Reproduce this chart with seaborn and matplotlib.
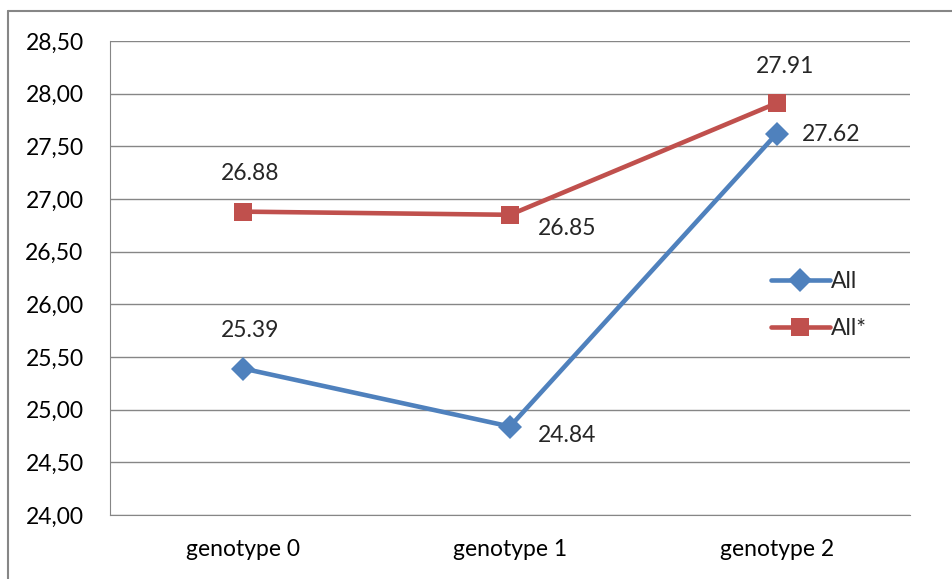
import pandas as pd
import matplotlib.pyplot as plt
import seaborn as sns
from matplotlib.ticker import FuncFormatter, MultipleLocator
from matplotlib.lines import Line2D

# data
genotypes = ["genotype 0", "genotype 1", "genotype 2"]
all_vals = [25.39, 24.84, 27.62]
all_star_vals = [26.88, 26.85, 27.91]

df = pd.DataFrame({
    "genotype": genotypes * 2,
    "value": all_vals + all_star_vals,
    "series": ["All"] * 3 + ["All*"] * 3,
})

sns.set_style("white")
plt.rcParams["font.family"] = ["Lato", "DejaVu Sans"]

blue = "#4F81BD"
red = "#C0504D"
grid = "#868686"
fs = 16.5

fig = plt.figure(figsize=(9.53, 5.79), dpi=100)
ax = fig.add_axes([110 / 953, 1 - 515 / 579, 800 / 953, 474 / 579])

sns.lineplot(data=df, x="genotype", y="value", hue="series", style="series",
             palette={"All": blue, "All*": red},
             markers={"All": "D", "All*": "s"}, dashes=False,
             linewidth=3.3, markersize=12, markeredgewidth=0, ax=ax, sort=False)

# square markers a bit bigger than the diamonds
for ln in ax.lines:
    if ln.get_marker() == "s":
        ln.set_markersize(13.5)

ax.set_xlim(-0.5, 2.5)
ax.set_ylim(24, 28.5)
ax.yaxis.set_major_locator(MultipleLocator(0.5))
ax.yaxis.set_major_formatter(FuncFormatter(lambda v, p: f"{v:.2f}".replace(".", ",")))
ax.grid(axis="y", color=grid, linewidth=1)
ax.set_axisbelow(True)
for s in ["top", "right"]:
    ax.spines[s].set_visible(False)
ax.spines["left"].set_color(grid)
ax.spines["bottom"].set_color(grid)
ax.tick_params(axis="y", length=0, pad=19, labelsize=fs, colors="black")
ax.tick_params(axis="x", length=0, pad=17, labelsize=fs, colors="black")
ax.set_xlabel("")
ax.set_ylabel("")

# data labels
offsets_all = [(7, 38), (57, -9), (54, -1)]
offsets_star = [(7, 38), (57, -14), (8, 37)]
for i, (v, off) in enumerate(zip(all_vals, offsets_all)):
    ax.annotate(f"{v:.2f}", (i, v), xytext=off, textcoords="offset pixels",
                ha="center", va="center", fontsize=fs)
for i, (v, off) in enumerate(zip(all_star_vals, offsets_star)):
    ax.annotate(f"{v:.2f}", (i, v), xytext=off, textcoords="offset pixels",
                ha="center", va="center", fontsize=fs)

handles, labels = ax.get_legend_handles_labels()
ax.legend(handles, labels, loc="center left", bbox_to_anchor=(0.8, 0.443),
          frameon=False, fontsize=fs, handlelength=2.6, handletextpad=0.05,
          labelspacing=1.1)

# outer chart frame
fig.add_artist(Line2D([8 / 953, 8 / 953], [0, 1 - 11 / 579], color=grid, linewidth=1.5))
fig.add_artist(Line2D([8 / 953, 1], [1 - 11 / 579, 1 - 11 / 579], color=grid, linewidth=1.5))

plt.savefig("out.png", dpi=100)
